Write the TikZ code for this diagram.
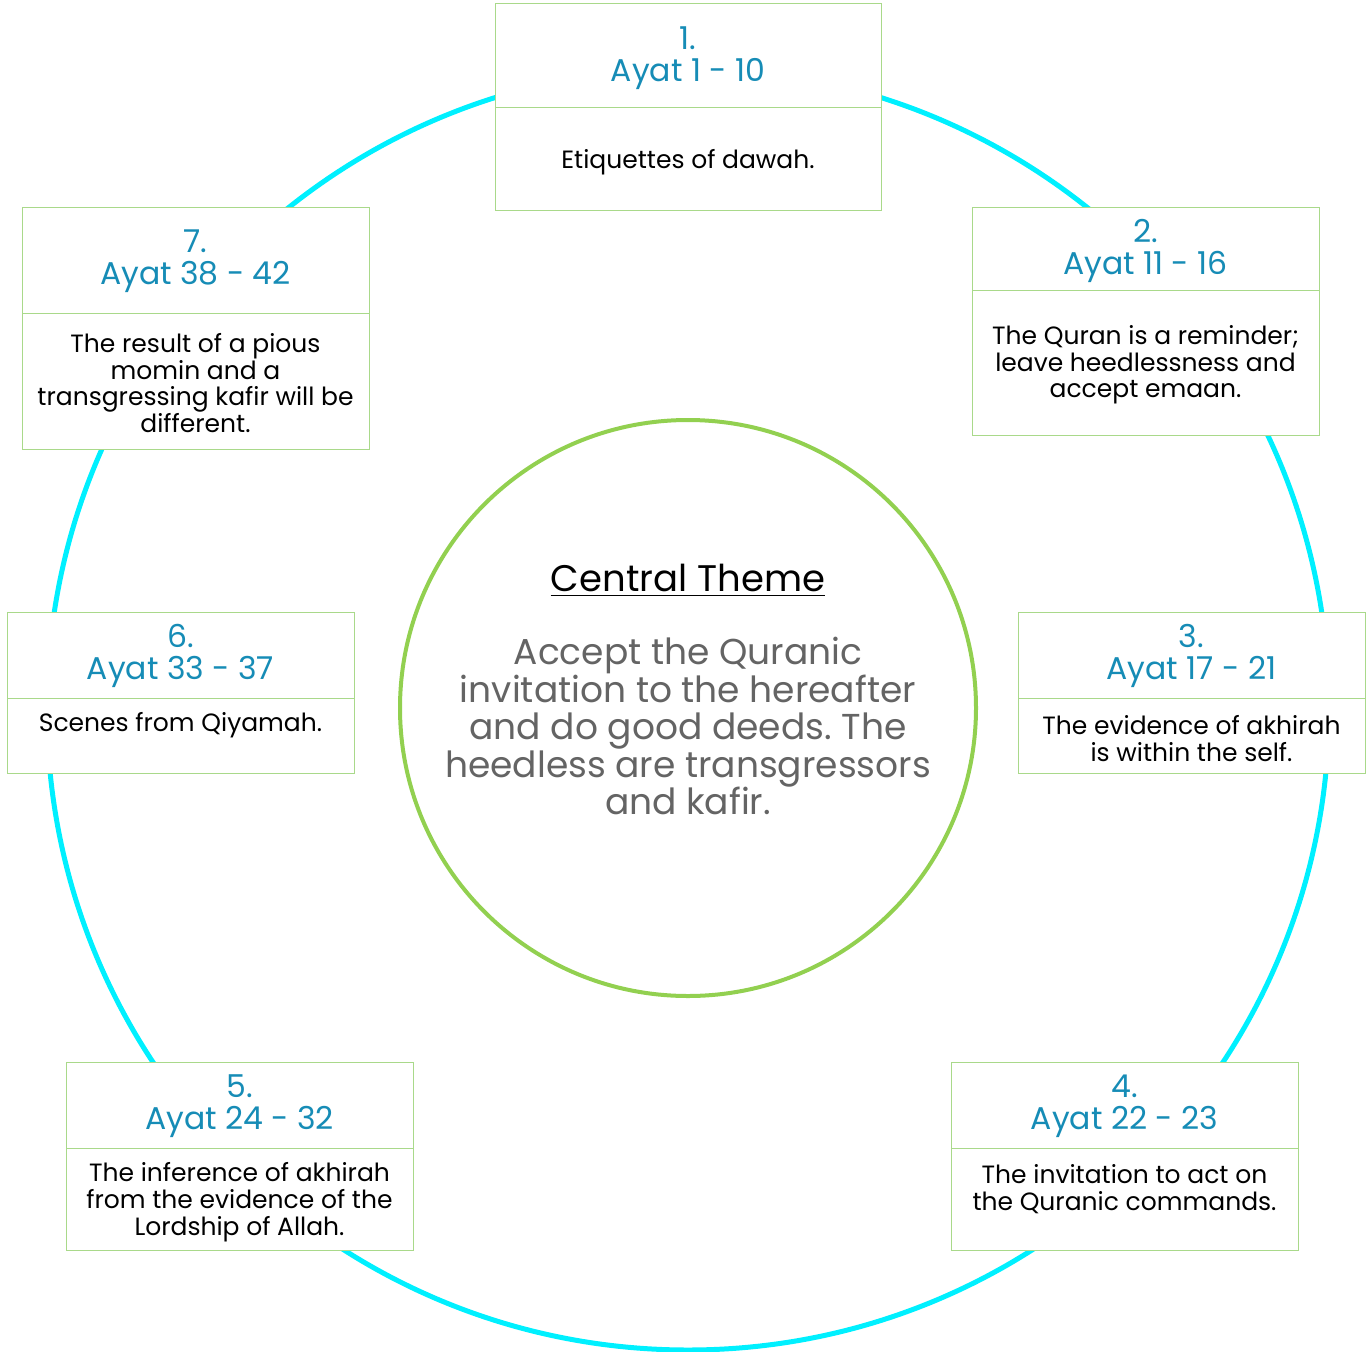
\documentclass[tikz,border=0pt]{standalone}
\usepackage{fontspec}
\setmainfont{Poppins}
\frenchspacing
\definecolor{hdr}{RGB}{22,140,182}
\definecolor{bord}{RGB}{169,217,138}
\definecolor{ring}{RGB}{0,240,255}
\definecolor{gring}{RGB}{146,208,80}
\definecolor{ctext}{RGB}{100,100,100}
\begin{document}
\begin{tikzpicture}[x=1pt,y=-1pt,
  boxpart/.style={draw=bord, line width=1.2pt, fill=white, rectangle, inner sep=0pt, anchor=north west},
  hdrtext/.style={text=hdr, font=\fontsize{31.5}{32}\selectfont, align=center, inner sep=0pt},
  bodytext/.style={text=black, font=\fontsize{25}{26.7}\selectfont, align=center, inner sep=0pt},
  centtext/.style={text=ctext, font=\fontsize{36}{37.5}\selectfont, align=center, inner sep=0pt}]
\useasboundingbox (0,0) rectangle (1371,1352);
% rings
\draw[ring, line width=5pt] (688,709) circle[radius=641pt];
\draw[gring, line width=4pt] (688,708) circle[radius=288pt];
% central text
\node[font=\fontsize{37}{40}\selectfont, inner sep=0pt] (ct) at (688,578) {Central Theme};
\draw[line width=1.5pt] ([yshift=-4pt]ct.base west) -- ([yshift=-4pt]ct.base east);
\node[centtext] (cb) at (688,726) {Accept the Quranic\\invitation to the hereafter\\and do good deeds. The\\heedless are transgressors\\and kafir.};
% box 1
\node[boxpart, minimum width=386pt, minimum height=104pt] (h1) at (495,3) {};
\node[boxpart, minimum width=386pt, minimum height=103pt] (b1) at (495,107) {};
\node[hdrtext] (t1) at (688,58) {1.\\Ayat 1 - 10};
\node[bodytext] (d1) at (688,162) {Etiquettes of dawah.};
% box 2
\node[boxpart, minimum width=347pt, minimum height=83pt] (h2) at (972,207) {};
\node[boxpart, minimum width=347pt, minimum height=145pt] (b2) at (972,290) {};
\node[hdrtext] (t2) at (1145.5,251) {2.\\Ayat 11 - 16};
\node[bodytext] (d2) at (1145.5,365) {The Quran is a reminder;\\leave heedlessness and\\accept emaan.};
% box 3
\node[boxpart, minimum width=347pt, minimum height=86pt] (h3) at (1018,612) {};
\node[boxpart, minimum width=347pt, minimum height=75pt] (b3) at (1018,698) {};
\node[hdrtext] (t3) at (1191.5,656) {3.\\Ayat 17 - 21};
\node[bodytext] (d3) at (1191.5,738.5) {The evidence of akhirah\\is within the self.};
% box 4
\node[boxpart, minimum width=347pt, minimum height=86pt] (h4) at (951,1062) {};
\node[boxpart, minimum width=347pt, minimum height=102pt] (b4) at (951,1148) {};
\node[hdrtext] (t4) at (1124.5,1106) {4.\\Ayat 22 - 23};
\node[bodytext] (d4) at (1124.5,1189) {The invitation to act on\\the Quranic commands.};
% box 5
\node[boxpart, minimum width=347pt, minimum height=86pt] (h5) at (66,1062) {};
\node[boxpart, minimum width=347pt, minimum height=102pt] (b5) at (66,1148) {};
\node[hdrtext] (t5) at (239.5,1106) {5.\\Ayat 24 - 32};
\node[bodytext] (d5) at (239.5,1202) {The inference of akhirah\\from the evidence of the\\Lordship of Allah.};
% box 6
\node[boxpart, minimum width=347pt, minimum height=86pt] (h6) at (7,612) {};
\node[boxpart, minimum width=347pt, minimum height=75pt] (b6) at (7,698) {};
\node[hdrtext] (t6) at (180.5,656) {6.\\Ayat 33 - 37};
\node[bodytext] (d6) at (180.5,725) {Scenes from Qiyamah.};
% box 7
\node[boxpart, minimum width=347pt, minimum height=106pt] (h7) at (22,207) {};
\node[boxpart, minimum width=347pt, minimum height=136pt] (b7) at (22,313) {};
\node[hdrtext] (t7) at (195.5,261) {7.\\Ayat 38 - 42};
\node[bodytext] (d7) at (195.5,383) {The result of a pious\\momin and a\\transgressing kafir will be\\different.};
\end{tikzpicture}
\end{document}
